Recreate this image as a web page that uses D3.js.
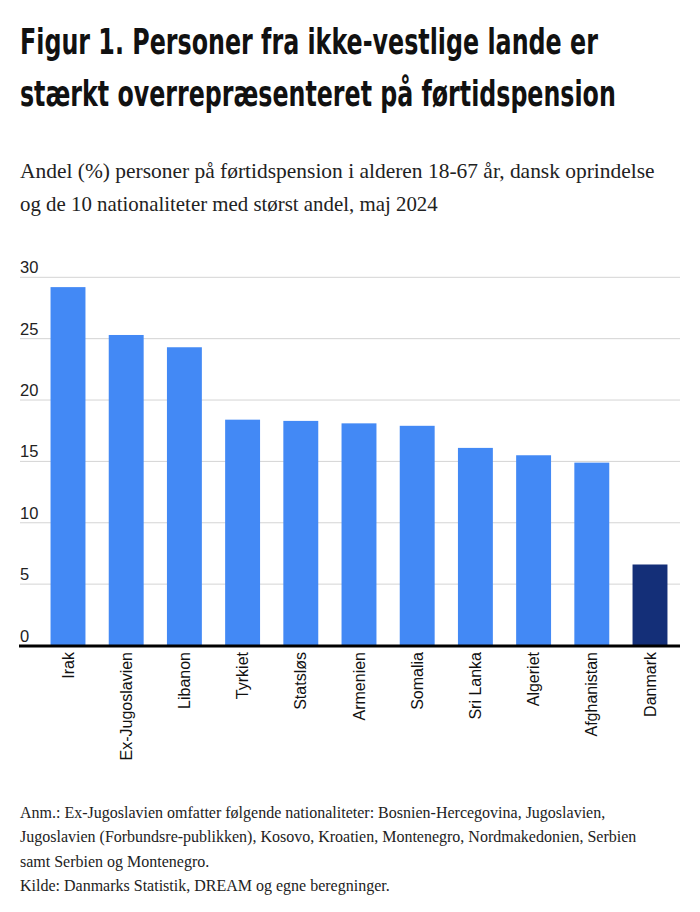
<!DOCTYPE html>
<html>
<head>
  <meta charset="utf-8">
  <script src="https://d3js.org/d3.v7.min.js"></script>
  <style>
    body{margin:0;background:#fff;}
    svg{display:block;}
  </style>
</head>
<body>
<svg></svg>
<script type="text/javascript">
  // data
  var countries = ["Irak", "Ex-Jugoslavien", "Libanon", "Tyrkiet", "Statsløs", "Armenien",
                   "Somalia", "Sri Lanka", "Algeriet", "Afghanistan", "Danmark"];
  var shares = [29.2, 25.3, 24.3, 18.4, 18.3, 18.1, 17.9, 16.1, 15.5, 14.9, 6.6];
  var yTicks = [0, 5, 10, 15, 20, 25, 30];

  var titleLines = ["Figur 1. Personer fra ikke-vestlige lande er",
                    "stærkt overrepræsenteret på førtidspension"];
  var subtitleLines = ["Andel (%) personer på førtidspension i alderen 18-67 år, dansk oprindelse",
                       "og de 10 nationaliteter med størst andel, maj 2024"];
  var noteLines = ["Anm.: Ex-Jugoslavien omfatter følgende nationaliteter: Bosnien-Hercegovina, Jugoslavien,",
                   "Jugoslavien (Forbundsre-publikken), Kosovo, Kroatien, Montenegro, Nordmakedonien, Serbien",
                   "samt Serbien og Montenegro.",
                   "Kilde: Danmarks Statistik, DREAM og egne beregninger."];

  // squeeze a text horizontally (from its left edge) so it fits a given width
  function fitWidth(sel, target) {
    sel.each(function (d, i) {
      var t = d3.select(this);
      var w = this.getComputedTextLength();
      var tw = typeof target === "function" ? target(d, i) : target;
      var k = w > 0 ? tw / w : 1;
      var x0 = +t.attr("x");
      t.attr("transform", "translate(" + x0 + ",0) scale(" + k + ",1) translate(" + (-x0) + ",0)");
    });
  }

  function draw() {
    "use strict";
    var width = 700, height = 912;
    var svg = d3.select("svg").attr("width", width).attr("height", height);

    // title (condensed bold in the original)
    var titleWidths = [578, 596];
    svg.selectAll("text.title").data(titleLines).enter()
      .append("text").attr("class", "title")
      .attr("x", 20)
      .attr("y", function (d, i) { return 54 + i * 52; })
      .style("font-family", "'DejaVu Sans Condensed', 'DejaVu Sans', sans-serif")
      .style("font-stretch", "condensed")
      .style("font-weight", "bold")
      .style("font-size", "36px")
      .style("fill", "#111")
      .text(function (d) { return d; })
      .call(fitWidth, function (d, i) { return titleWidths[i]; });

    var subWidths = [635, 418];
    svg.selectAll("text.sub").data(subtitleLines).enter()
      .append("text").attr("class", "sub")
      .attr("x", 20)
      .attr("y", function (d, i) { return 178 + i * 33; })
      .style("font-family", "'Liberation Serif', 'Times New Roman', serif")
      .style("font-size", "21px")
      .style("fill", "#222")
      .text(function (d) { return d; })
      .call(fitWidth, function (d, i) { return subWidths[i]; });

    // scales
    var x = d3.scaleBand()
      .domain(countries)
      .range([38.9, 679.1])
      .paddingInner(0.4)
      .paddingOuter(0.2);

    var y = d3.scaleLinear()
      .domain([0, 30])
      .range([645.5, 277.3]);

    var chart = svg.append("g").attr("class", "chart");

    // gridlines + tick labels
    var grid = chart.selectAll("g.tick").data(yTicks).enter()
      .append("g").attr("class", "tick")
      .attr("transform", function (d) { return "translate(0," + y(d) + ")"; });
    grid.filter(function (d) { return d !== 0; })
      .append("line")
      .attr("x1", 20).attr("x2", 680)
      .style("stroke", "#d4d4d4")
      .style("stroke-width", 1);
    grid.append("text")
      .attr("x", 20)
      .attr("y", -4)
      .style("font-family", "'Liberation Sans', Arial, sans-serif")
      .style("font-size", "16.5px")
      .style("fill", "#222")
      .text(function (d) { return d; });

    // bars
    chart.selectAll("rect.bar").data(shares).enter()
      .append("rect").attr("class", "bar")
      .attr("x", function (d, i) { return x(countries[i]); })
      .attr("width", x.bandwidth())
      .attr("y", function (d) { return y(d); })
      .attr("height", function (d) { return y(0) - y(d); })
      .style("fill", function (d, i) { return countries[i] === "Danmark" ? "#142f78" : "#4389f5"; });

    // x axis baseline
    chart.append("line")
      .attr("x1", 19).attr("x2", 680)
      .attr("y1", y(0) + 0.5).attr("y2", y(0) + 0.5)
      .style("stroke", "#000")
      .style("stroke-width", 3);

    // rotated category labels
    chart.selectAll("text.cat").data(countries).enter()
      .append("text").attr("class", "cat")
      .attr("transform", function (d) {
        return "translate(" + (x(d) + x.bandwidth() / 2 + 5.5) + ",652) rotate(-90)";
      })
      .style("text-anchor", "end")
      .style("font-family", "'Liberation Sans', Arial, sans-serif")
      .style("font-size", "16px")
      .style("fill", "#111")
      .text(function (d) { return d; });

    // note and source
    svg.selectAll("text.note").data(noteLines).enter()
      .append("text").attr("class", "note")
      .attr("x", 20)
      .attr("y", function (d, i) { return 818 + i * 24.3; })
      .style("font-family", "'Liberation Serif', 'Times New Roman', serif")
      .style("font-size", "16px")
      .style("fill", "#222")
      .text(function (d) { return d; });
  }

  draw();
</script>
</body>
</html>
